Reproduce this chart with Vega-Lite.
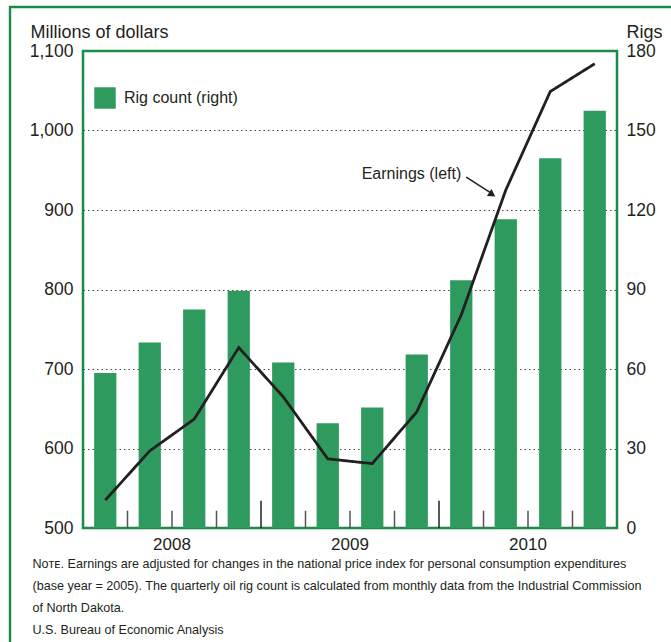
{
  "$schema": "https://vega.github.io/schema/vega-lite/v6.json",
  "width": 534,
  "height": 477,
  "autosize": {"type": "none"},
  "padding": {"left": 83, "top": 51, "right": 54, "bottom": 114},
  "background": "white",
  "config": {
    "font": "Liberation Sans",
    "view": {"stroke": "#1b8c47", "strokeWidth": 2.5},
    "legend": {"strokeWidth": 2.4},
    "axis": {"labelColor": "#231f20", "titleColor": "#231f20", "labelFont": "Liberation Sans", "titleFont": "Liberation Sans"}
  },
  "data": {
    "values": [
      {"quarter": "2008 Q1", "earnings": 535, "rigs": 58.5},
      {"quarter": "2008 Q2", "earnings": 597, "rigs": 70},
      {"quarter": "2008 Q3", "earnings": 637, "rigs": 82.5},
      {"quarter": "2008 Q4", "earnings": 727, "rigs": 89.5},
      {"quarter": "2009 Q1", "earnings": 665, "rigs": 62.5},
      {"quarter": "2009 Q2", "earnings": 587, "rigs": 39.5},
      {"quarter": "2009 Q3", "earnings": 581, "rigs": 45.5},
      {"quarter": "2009 Q4", "earnings": 646, "rigs": 65.5},
      {"quarter": "2010 Q1", "earnings": 768, "rigs": 93.5},
      {"quarter": "2010 Q2", "earnings": 925, "rigs": 116.5},
      {"quarter": "2010 Q3", "earnings": 1049, "rigs": 139.5},
      {"quarter": "2010 Q4", "earnings": 1084, "rigs": 157.5}
    ]
  },
  "encoding": {
    "x": {
      "field": "quarter",
      "type": "nominal",
      "sort": null,
      "scale": {"paddingInner": 0, "paddingOuter": 0},
      "axis": {
        "labelExpr": "indexof(datum.value, 'Q3') >= 0 ? slice(datum.value, 0, 4) : ''",
        "labelOffset": -22.25,
        "ticks": false,
        "domain": false,
        "labelAngle": 0,
        "labelFontSize": 17,
        "labelPadding": 8,
        "labelOverlap": false,
        "title": [
          "Nᴏᴛᴇ. Earnings are adjusted for changes in the national price index for personal consumption expenditures",
          "(base year = 2005). The quarterly oil rig count is calculated from monthly data from the Industrial Commission",
          "of North Dakota.",
          "U.S. Bureau of Economic Analysis"
        ],
        "titleX": -51,
        "titleY": 39,
        "titleAlign": "left",
        "titleAnchor": "start",
        "titleBaseline": "alphabetic",
        "titleFontSize": 12.6,
        "titleFontWeight": "normal",
        "titleLineHeight": 22,
        "titleLimit": 800
      }
    }
  },
  "layer": [
    {
      "mark": {"type": "bar", "width": {"band": 0.5}},
      "encoding": {
        "y": {
          "field": "rigs",
          "type": "quantitative",
          "scale": {"domain": [0, 180], "nice": false},
          "axis": {
            "orient": "right",
            "values": [0, 30, 60, 90, 120, 150, 180],
            "ticks": false,
            "domain": false,
            "grid": false,
            "labelFontSize": 17.5,
            "labelPadding": 9,
            "title": "Rigs",
            "titleAngle": 0,
            "titleX": 9,
            "titleY": -14,
            "titleAlign": "left",
            "titleBaseline": "alphabetic",
            "titleFontSize": 18,
            "titleFontWeight": "normal"
          }
        },
        "color": {
          "datum": "Rig count (right)",
          "scale": {"range": ["#2e9a5e"]},
          "legend": {
            "orient": "none",
            "legendX": 11,
            "legendY": 36,
            "title": null,
            "padding": 0,
            "symbolType": "square",
            "symbolSize": 460,
            "symbolStrokeWidth": 0,
            "labelFontSize": 16,
            "labelColor": "#231f20",
            "labelOffset": 8
          }
        }
      }
    },
    {
      "layer": [
        {
          "mark": {"type": "line", "color": "#231f20", "strokeWidth": 2.8},
          "encoding": {
            "y": {
              "field": "earnings",
              "type": "quantitative",
              "scale": {"domain": [500, 1100], "nice": false, "zero": false},
              "axis": {
                "values": [500, 600, 700, 800, 900, 1000, 1100],
                "format": ",d",
                "ticks": false,
                "domain": false,
                "labelFontSize": 17.5,
                "labelPadding": 10,
                "grid": true,
                "gridDash": [1.5, 3],
                "gridColor": "#444444",
                "gridWidth": 1,
                "gridOpacity": {"condition": {"test": "datum.value == 500 || datum.value == 1100", "value": 0}, "value": 1},
                "title": "Millions of dollars",
                "titleAngle": 0,
                "titleX": -53,
                "titleY": -14,
                "titleAlign": "left",
                "titleBaseline": "alphabetic",
                "titleFontSize": 18,
                "titleFontWeight": "normal"
              }
            },
            "strokeDash": {
              "datum": "frame",
              "scale": {"range": [[1, 0]]},
              "legend": {
                "orient": "none",
                "legendX": -73,
                "legendY": -44,
                "title": null,
                "padding": 800,
                "strokeColor": "#1b8c47",
                "symbolOpacity": 0,
                "labelOpacity": 0,
                "labelExpr": "''"
              }
            }
          }
        },
        {
          "transform": [{"filter": "indexof(datum.quarter, 'Q1') < 0"}],
          "mark": {"type": "rule", "color": "#555555", "strokeWidth": 1.5},
          "encoding": {
            "x": {"field": "quarter", "type": "nominal", "bandPosition": 0},
            "y": {"datum": 500},
            "y2": {"datum": 521.8}
          }
        },
        {
          "transform": [{"filter": "indexof(datum.quarter, 'Q1') >= 0 && datum.quarter != '2008 Q1'"}],
          "mark": {"type": "rule", "color": "#231f20", "strokeWidth": 1.5},
          "encoding": {
            "x": {"field": "quarter", "type": "nominal", "bandPosition": 0},
            "y": {"datum": 500},
            "y2": {"datum": 534.3}
          }
        },
        {
          "data": {"values": [{}]},
          "mark": {"type": "text", "text": "Earnings (left)", "align": "right", "baseline": "middle", "fontSize": 16, "color": "#231f20"},
          "encoding": {
            "x": {"datum": "2010 Q1"},
            "y": {"datum": 945}
          }
        },
        {
          "data": {"values": [{}]},
          "mark": {"type": "rule", "color": "#231f20", "strokeWidth": 1.5, "xOffset": 5, "x2Offset": -13},
          "encoding": {
            "x": {"datum": "2010 Q1"},
            "x2": {"datum": "2010 Q2"},
            "y": {"datum": 941.5},
            "y2": {"datum": 920}
          }
        },
        {
          "data": {"values": [{}]},
          "mark": {"type": "point", "shape": "triangle-up", "filled": true, "color": "#231f20", "opacity": 1, "size": 70, "angle": 123, "xOffset": -13.5},
          "encoding": {
            "x": {"datum": "2010 Q2"},
            "y": {"datum": 919.5}
          }
        }
      ]
    }
  ],
  "resolve": {"scale": {"y": "independent"}, "axis": {"y": "independent"}}
}
